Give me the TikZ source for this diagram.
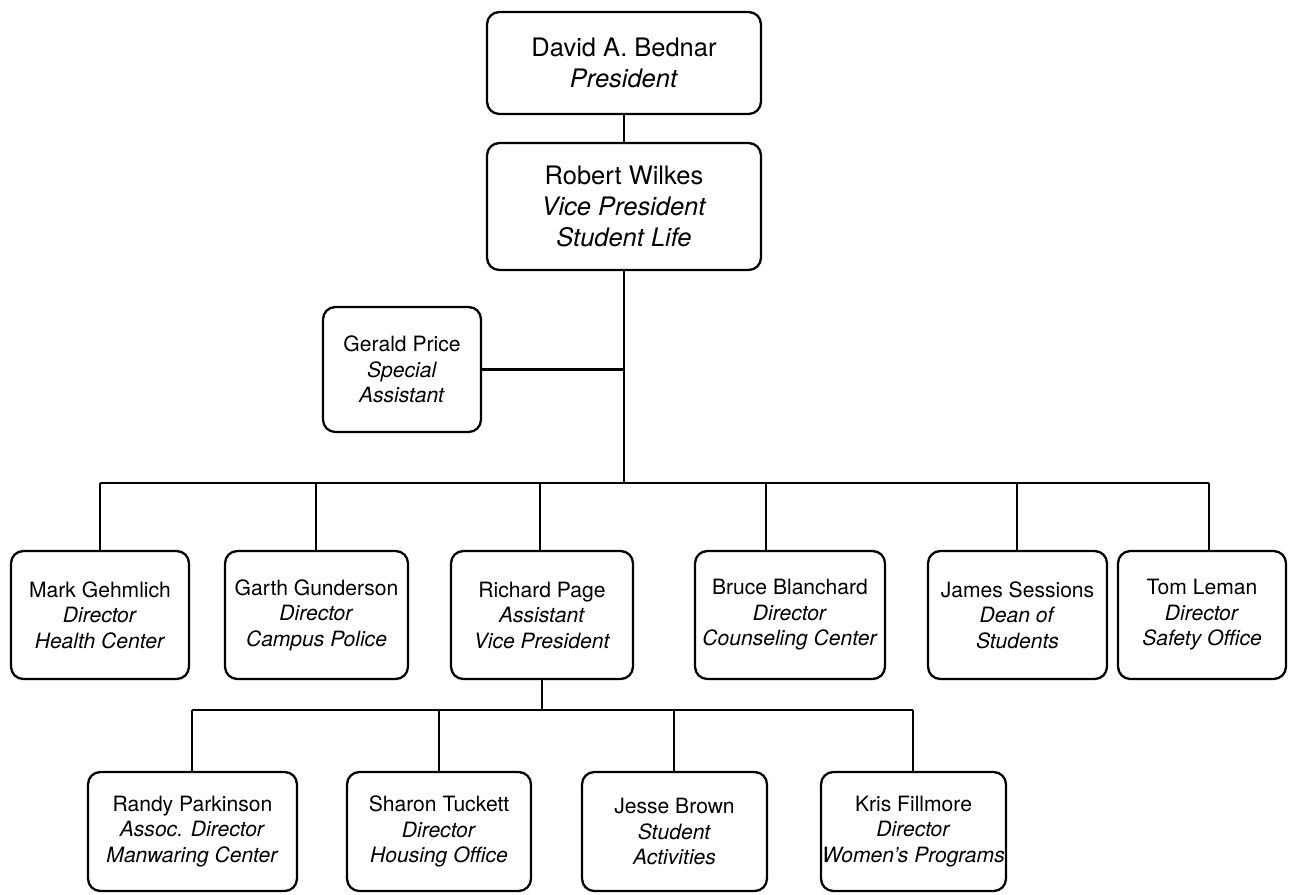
\documentclass[tikz,border=0pt]{standalone}
\usepackage{fontspec}
\setmainfont{TeX Gyre Heros}
\usepackage{xcolor}
\usepackage{tikz}
\usetikzlibrary{positioning,calc}
\definecolor{OCLine}{HTML}{000000}
\definecolor{OCWhite}{HTML}{FFFFFF}

\tikzset{
  orgbox/.style={draw=OCLine,fill=OCWhite,rounded corners=7pt,line width=1.3pt,
    align=center,inner sep=0pt,font=\fontsize{12}{14.5}\selectfont},
  bigbox/.style={orgbox,font=\fontsize{14.5}{17.5}\selectfont},
  orgline/.style={draw=OCLine,line width=1.3pt}
}

\begin{document}
\begin{tikzpicture}[x=0.02cm,y=-0.02cm]
    \useasboundingbox (0,0) rectangle (1295,894);
    % top of the tree
    \node[bigbox,minimum width=5.48cm,minimum height=2.04cm] (pres) at (624,63)
      {David A. Bednar\\\textit{President}};
    \node[bigbox,minimum width=5.48cm,minimum height=2.54cm] (vp) at (624,206.5)
      {Robert Wilkes\\\textit{Vice President}\\\textit{Student Life}};
    \node[orgbox,minimum width=3.16cm,minimum height=2.5cm] (price) at (402,369.5)
      {Gerald Price\\\textit{Special}\\\textit{Assistant}};
    % directors
    \node[orgbox,minimum width=3.56cm,minimum height=2.56cm] (health) at (100,615)
      {Mark Gehmlich\\\textit{Director}\\\textit{Health Center}};
    \node[orgbox,minimum width=3.66cm,minimum height=2.56cm] (police) at (316.5,615)
      {Garth Gunderson\\\textit{Director}\\\textit{Campus Police}};
    \node[orgbox,minimum width=3.64cm,minimum height=2.56cm] (avp) at (542,615)
      {Richard Page\\\textit{Assistant}\\\textit{Vice President}};
    \node[orgbox,minimum width=3.8cm,minimum height=2.56cm] (counsel) at (790,615)
      {Bruce Blanchard\\\textit{Director}\\\textit{Counseling Center}};
    \node[orgbox,minimum width=3.58cm,minimum height=2.56cm] (dean) at (1017.5,615)
      {James Sessions\\\textit{Dean of}\\\textit{Students}};
    \node[orgbox,minimum width=3.36cm,minimum height=2.56cm] (safety) at (1202,615)
      {Tom Leman\\\textit{Director}\\\textit{Safety Office}};
    % under the assistant vice president
    \node[orgbox,minimum width=4.18cm,minimum height=2.38cm] (manw) at (192.5,831.5)
      {Randy Parkinson\\\textit{Assoc. Director}\\\textit{Manwaring Center}};
    \node[orgbox,minimum width=3.68cm,minimum height=2.38cm] (housing) at (439,831.5)
      {Sharon Tuckett\\\textit{Director}\\\textit{Housing Office}};
    \node[orgbox,minimum width=3.7cm,minimum height=2.38cm] (activ) at (674.5,831.5)
      {Jesse Brown\\\textit{Student}\\\textit{Activities}};
    \node[orgbox,minimum width=3.7cm,minimum height=2.38cm] (women) at (913.5,831.5)
      {Kris Fillmore\\\textit{Director}\\\textit{Women's Programs}};

    % bus lines
    \coordinate (busA) at (624,483);
    \coordinate (busB) at (542,710);

    \draw[orgline] (pres) -- (vp);
    \draw[orgline] (vp) -- (busA);
    \draw[orgline] (price.east) -- (price.east -| vp.south);
    \draw[orgline] (100,483) -- (1209,483);
    \foreach \dx/\who in {100/health,316/police,540/avp,766/counsel,1017/dean,1209/safety}
      \draw[orgline] (\dx,483) -- (\dx,0 |- \who.north);
    \draw[orgline] (avp.south) -- (busB);
    \draw[orgline] (192,710) -- (913,710);
    \foreach \dx/\who in {192/manw,439/housing,674/activ,913/women}
      \draw[orgline] (\dx,710) -- (\dx,0 |- \who.north);
\end{tikzpicture}
\end{document}
